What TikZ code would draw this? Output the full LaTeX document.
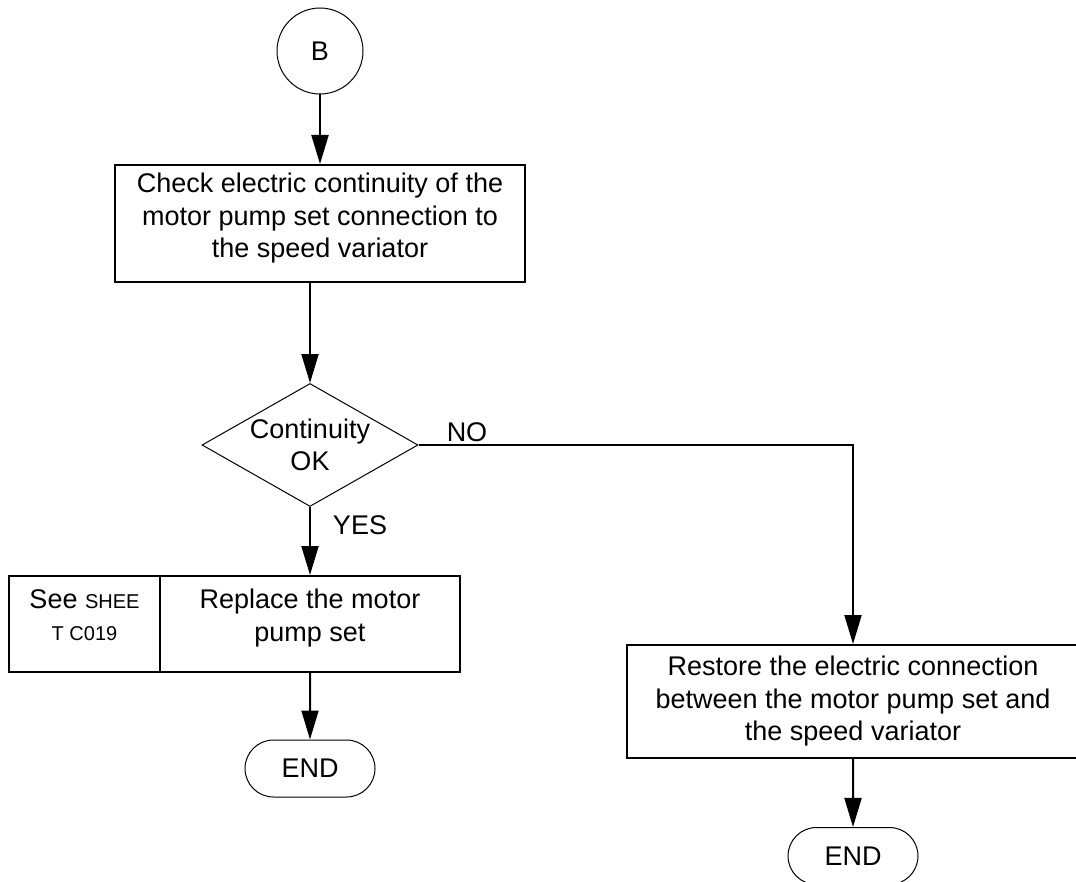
\documentclass[tikz,border=0pt]{standalone}
\usepackage{fontspec}
\setmainfont{Liberation Sans}
\usetikzlibrary{shapes.geometric,shapes.misc,arrows.meta}
\tikzset{
  procbox/.style={draw, line width=1pt, align=center, inner sep=0pt},
  connector/.style={draw, circle, line width=0.5pt, minimum size=43pt, inner sep=0pt},
  decision/.style={draw, diamond, aspect=1.756, line width=0.5pt, minimum width=108pt, minimum height=61.5pt, inner sep=-2pt, align=center},
  endterm/.style={draw, rounded rectangle, line width=0.5pt, minimum width=65pt, minimum height=28.5pt, inner sep=0pt},
  flow/.style={-{Triangle[length=14.5pt,width=8.5pt]}, line width=1pt}
}
\newcommand{\smalltag}{\fontsize{10}{16.5}\selectfont}
\begin{document}
\begin{tikzpicture}[x=0.5pt,y=-0.5pt,font=\fontsize{13.5}{16.25}\selectfont]
\useasboundingbox (0,0) rectangle (1076,882);
\node[connector] (start) at (320,51) {B};
\node[procbox, minimum width=205pt, minimum height=58.5pt, text depth=8pt] (check) at (320,223.5) {Check electric continuity of the\\ motor pump set connection to\\ the speed variator};
\node[decision] (cont) at (310,445) {Continuity\\ OK};
\node[procbox, minimum width=75.5pt, minimum height=48pt, text depth=9pt] (sheet) at (84.5,624) {See {\smalltag SHEE}\\ {\smalltag T C019}};
\node[procbox, minimum width=150pt, minimum height=48pt, text depth=9pt] (replace) at (310,624) {Replace the motor\\ pump set};
\node[endterm] (endA) at (310,768.5) {END};
\node[procbox, minimum width=226pt, minimum height=56.5pt] (restore) at (853,701.5) {Restore the electric connection\\ between the motor pump set and\\ the speed variator};
\node[endterm] (endB) at (853,856) {END};
\node (no) at (467,432) {NO};
\node (yes) at (360,525) {YES};

\draw[flow] (start) -- (check);
\draw[flow] (check.south -| cont.north) -- (cont.north);
\draw[flow] (cont.south) -- (replace.north);
\draw[flow] (replace) -- (endA);
\draw[flow] (cont.east) -| (restore.north);
\draw[flow] (restore) -- (endB);
\end{tikzpicture}
\end{document}
